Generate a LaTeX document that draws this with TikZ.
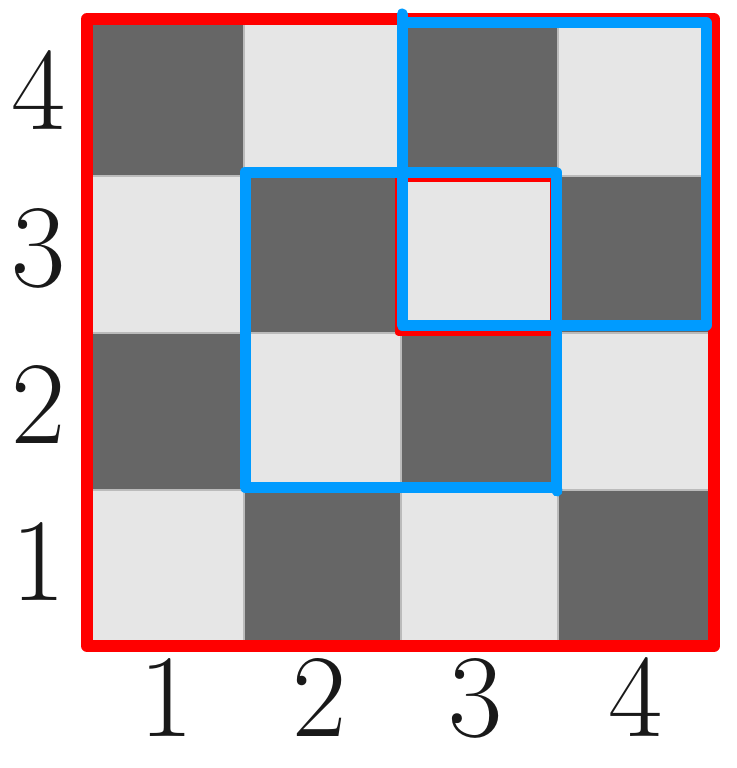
\documentclass[tikz,border=0pt]{standalone}
\definecolor{darkcell}{HTML}{666666}
\definecolor{lightcell}{HTML}{E6E6E6}
\definecolor{gridgray}{HTML}{BBBBBB}
\definecolor{myred}{RGB}{255,0,0}
\definecolor{myblue}{RGB}{0,155,255}
\begin{document}
\begin{tikzpicture}[x=1pt,y=-1pt,
  lbl/.style={anchor=base,inner sep=0pt,font=\fontsize{118}{118}\selectfont,text=black!90},
  redline/.style={draw=myred,line join=round,line cap=round},
  blueline/.style={draw=myblue,line width=11pt,line join=round,line cap=round}]
\useasboundingbox (0,0) rectangle (736,768);
% cells
\foreach \i in {0,1,2,3}{
  \foreach \j in {0,1,2,3}{
    \pgfmathtruncatemacro{\p}{mod(\i+\j,2)}
    \ifnum\p=0
      \fill[darkcell] ({87+157*\i},{19+157*\j}) rectangle ++(157,157);
    \else
      \fill[lightcell] ({87+157*\i},{19+157*\j}) rectangle ++(157,157);
    \fi
  }
}
% grid lines
\foreach \k in {1,2,3}{
  \draw[gridgray,line width=2pt] ({87+157*\k},19) -- ({87+157*\k},647);
  \draw[gridgray,line width=2pt] (87,{19+157*\k}) -- (715,{19+157*\k});
}
% red outlines
\draw[redline,line width=12pt] (87,19) rectangle (714,646);
\draw[redline,line width=7pt] (398,178) rectangle (553,332);
% blue rectangles
\draw[blueline] (402,23) rectangle (706,325);
\draw[blueline] (402,23) -- (402,14);
\draw[blueline] (245,172) rectangle (556,487);
\draw[blueline] (556,487) -- (557,491);
% labels
\node[lbl] (r4) at (39,129) {4};
\node[lbl] (r3) at (39,286) {3};
\node[lbl] (r2) at (39,443) {2};
\node[lbl] (r1) at (39,600) {1};
\node[lbl] (c1) at (167,736) {1};
\node[lbl] (c2) at (320,736) {2};
\node[lbl] (c3) at (476,736) {3};
\node[lbl] (c4) at (636,736) {4};
\end{tikzpicture}
\end{document}
